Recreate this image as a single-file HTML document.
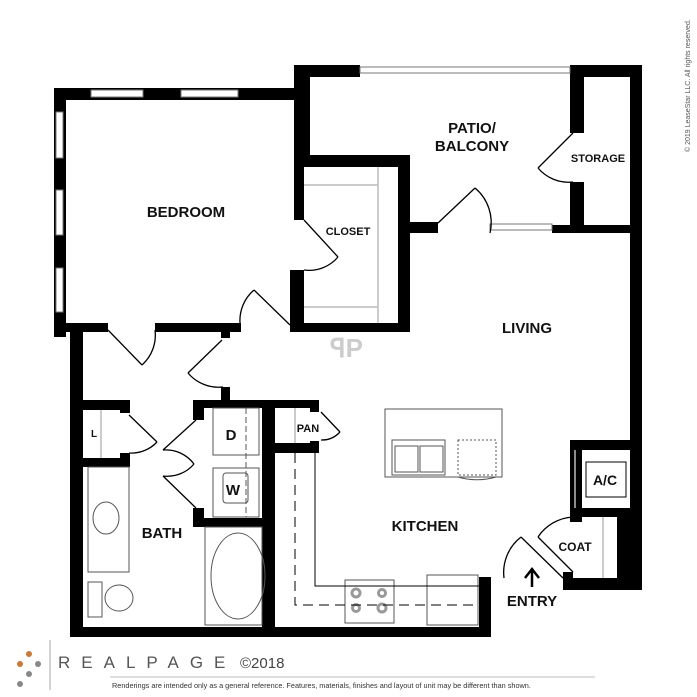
<!DOCTYPE html>
<html><head><style>
html,body{margin:0;padding:0;background:#fff;}
svg{display:block;font-family:"Liberation Sans",Arial,sans-serif;}
.t{font-weight:bold;fill:#111;}
</style></head><body>
<svg width="697" height="697" viewBox="0 0 697 697" xmlns="http://www.w3.org/2000/svg">
<rect width="697" height="697" fill="#fff"/>
<g fill="#000">
<rect x="54" y="88" width="250" height="12"/>
<rect x="54" y="88" width="12" height="249"/>
<rect x="54" y="323" width="54" height="9"/>
<rect x="155" y="323" width="86" height="9"/>
<rect x="221" y="330" width="9" height="8"/>
<rect x="294" y="88" width="10" height="132"/>
<rect x="290" y="270" width="14" height="62"/>
<rect x="290" y="323" width="118" height="9"/>
<rect x="294" y="65" width="66" height="12"/>
<rect x="294" y="65" width="16" height="102"/>
<rect x="294" y="155" width="116" height="12"/>
<rect x="398" y="155" width="12" height="177"/>
<rect x="398" y="222" width="40" height="11"/>
<rect x="570" y="65" width="72" height="12"/>
<rect x="630" y="65" width="12" height="525"/>
<rect x="570" y="65" width="14" height="68"/>
<rect x="570" y="182" width="14" height="51"/>
<rect x="552" y="225" width="90" height="8"/>
<rect x="70" y="330" width="13" height="307"/>
<rect x="70" y="627" width="421" height="10"/>
<rect x="479" y="577" width="12" height="60"/>
<rect x="83" y="400" width="47" height="10"/>
<rect x="120" y="400" width="10" height="13"/>
<rect x="120" y="453" width="10" height="14"/>
<rect x="83" y="458" width="47" height="9"/>
<rect x="221" y="387" width="9" height="13"/>
<rect x="193" y="400" width="126" height="8"/>
<rect x="193" y="400" width="11" height="20"/>
<rect x="193" y="508" width="11" height="19"/>
<rect x="193" y="518" width="82" height="9"/>
<rect x="262" y="400" width="13" height="237"/>
<rect x="275" y="443" width="44" height="10"/>
<rect x="310" y="400" width="9" height="12"/>
<rect x="310" y="441" width="9" height="12"/>
<rect x="570" y="440" width="72" height="10"/>
<rect x="570" y="440" width="12" height="82"/>
<rect x="570" y="508" width="72" height="9"/>
<rect x="617" y="508" width="25" height="82"/>
<rect x="563" y="578" width="79" height="12"/>
<rect x="563" y="572" width="10" height="18"/>
</g>
<g fill="#fff" stroke="#777" stroke-width="1">
<rect x="91" y="90" width="52" height="7"/>
<rect x="181" y="90" width="57" height="7"/>
<rect x="56" y="112" width="7" height="46"/>
<rect x="56" y="190" width="7" height="45"/>
<rect x="56" y="268" width="7" height="44"/>
<rect x="360" y="67" width="210" height="6"/>
<rect x="490" y="224" width="62" height="6"/>
</g>
<g fill="none" stroke="#000" stroke-width="1.3">
<path d="M108 330 L142 365 M142 365 A40 40 0 0 0 155 330"/>
<path d="M290 325 L254 290 M254 290 A40 40 0 0 0 240 323"/>
<path d="M304 220 L338 257 M338 257 A38 38 0 0 1 304 270"/>
<path d="M222 340 L188 373 M188 373 A40 40 0 0 0 223 387"/>
<path d="M438 223 L475 188 M475 188 A45 45 0 0 1 490 233"/>
<path d="M573 133 L538 168 M538 168 A40 40 0 0 0 573 182"/>
<path d="M129 415 L157 442 M157 442 A35 35 0 0 1 129 453"/>
<path d="M196 420 L163 450 M163 450 A35 35 0 0 1 194 464"/>
<path d="M196 508 L163 476 M163 476 A35 35 0 0 0 194 464"/>
<path d="M321 412 L340 432 M340 432 A25 25 0 0 1 321 440"/>
<path d="M563 578 L521 537 M521 537 A45 45 0 0 0 504 578"/>
<path d="M573 572 L538 537 M538 537 A45 45 0 0 1 573 517"/>
</g>
<g stroke="#bbb" stroke-width="1.5" fill="none">
<line x1="304" y1="185" x2="378" y2="185"/>
<line x1="304" y1="307" x2="378" y2="307"/>
<line x1="378" y1="167" x2="378" y2="323"/>
<line x1="101" y1="410" x2="101" y2="458"/>
<line x1="295" y1="408" x2="295" y2="443"/>
<line x1="575" y1="450" x2="575" y2="508"/>
<line x1="603" y1="517" x2="603" y2="578"/>
</g>
<g fill="none" stroke="#555" stroke-width="1">
<rect x="213" y="408" width="46" height="47"/>
<rect x="213" y="468" width="46" height="49"/>
<rect x="223" y="473" width="25" height="30" rx="3"/>
<line x1="246" y1="408" x2="246" y2="517" stroke-dasharray="6 3"/>
<rect x="88" y="467" width="41" height="105"/>
<ellipse cx="106" cy="518" rx="13" ry="16"/>
<rect x="88" y="582" width="14" height="35"/>
<ellipse cx="119" cy="598" rx="14" ry="13"/>
<rect x="205" y="527" width="57" height="98"/>
<ellipse cx="238" cy="576" rx="27" ry="43"/>
<rect x="385" y="409" width="117" height="68"/>
<rect x="392" y="440" width="53" height="35"/>
<rect x="395" y="446" width="23" height="26"/>
<rect x="420" y="446" width="23" height="26"/>
<rect x="458" y="440" width="38" height="35" stroke-dasharray="2 2"/>
<path d="M458 477 A30 12 0 0 0 496 477"/>
<rect x="345" y="580" width="49" height="43"/>
<circle cx="356" cy="593" r="4" stroke-width="3" stroke="#999"/>
<circle cx="382" cy="593" r="3.5" stroke-width="3" stroke="#999"/>
<circle cx="356" cy="608" r="3.5" stroke-width="3" stroke="#999"/>
<circle cx="382" cy="608" r="4" stroke-width="3" stroke="#999"/>
<rect x="427" y="575" width="51" height="50"/>
<polyline points="315,453 315,586 479,586" stroke="#000"/>
<polyline points="295,453 295,605 479,605" stroke="#000" stroke-dasharray="10 6"/>
<rect x="586" y="462" width="40" height="35" stroke="#000"/>
</g>
<text x="330" y="357" font-size="26" font-weight="bold" fill="#ccc">ꟼP</text>
<g class="t" text-anchor="middle">
<text x="186" y="217" font-size="15">BEDROOM</text>
<text x="472" y="133" font-size="15">PATIO/</text>
<text x="472" y="151" font-size="15">BALCONY</text>
<text x="598" y="162" font-size="11">STORAGE</text>
<text x="348" y="235" font-size="11">CLOSET</text>
<text x="527" y="333" font-size="15">LIVING</text>
<text x="94" y="437" font-size="10">L</text>
<text x="231" y="440" font-size="15">D</text>
<text x="233" y="495" font-size="15">W</text>
<text x="308" y="432" font-size="11">PAN</text>
<text x="605" y="485" font-size="14">A/C</text>
<text x="575" y="551" font-size="12">COAT</text>
<text x="162" y="538" font-size="15">BATH</text>
<text x="425" y="531" font-size="15">KITCHEN</text>
<text x="532" y="606" font-size="15">ENTRY</text>
</g>
<path d="M532 587 L532 571 M525 578 L532 569 L539 578" stroke="#000" stroke-width="2.5" fill="none"/>
<circle cx="29" cy="654" r="3" fill="#c87a3a"/>
<circle cx="20" cy="664" r="3" fill="#c87a3a"/>
<circle cx="38" cy="664" r="3" fill="#888"/>
<circle cx="29" cy="674" r="3" fill="#888"/>
<circle cx="20" cy="684" r="3" fill="#888"/>
<line x1="50" y1="640" x2="50" y2="690" stroke="#aaa" stroke-width="1"/>
<text x="58" y="668" font-size="17" fill="#555" letter-spacing="11">REALPAGE</text>
<text x="240" y="668" font-size="15" fill="#444">©2018</text>
<line x1="110" y1="677" x2="595" y2="677" stroke="#bbb" stroke-width="1"/>
<text x="112" y="688" font-size="7.3" fill="#333">Renderings are intended only as a general reference. Features, materials, finishes and layout of unit may be different than shown.</text>
<text transform="translate(690 152) rotate(-90)" font-size="7" fill="#555">© 2019 LeaseStar LLC. All rights reserved.</text>
</svg>
</body></html>
